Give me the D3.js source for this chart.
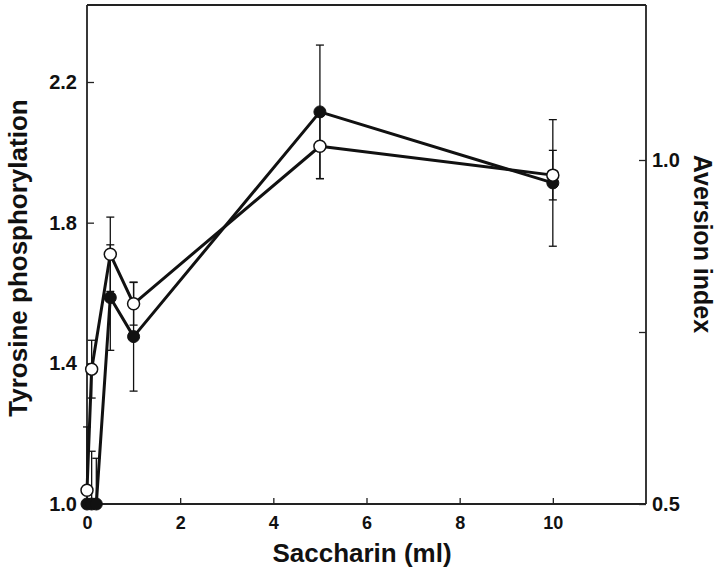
<!DOCTYPE html>
<html>
<head>
<meta charset="utf-8">
<script src="https://cdn.jsdelivr.net/npm/d3@7"></script>
<style>
  html, body { margin: 0; padding: 0; background: #fff; }
  svg text { font-family: "Liberation Sans", Arial, Helvetica, sans-serif; font-weight: bold; fill: #111; }
</style>
</head>
<body>
<svg id="chart" width="720" height="572"></svg>
<script>
// ---- data ----
const xTicks = [0, 2, 4, 6, 8, 10];
const leftTicks = [1.0, 1.4, 1.8, 2.2];
const rightTicks = [0.5, 0.75, 1.0];
const rightTickLabels = ["0.5", "", "1.0"];

// filled circles: Tyrosine phosphorylation (left axis)
const tyrX = [0, 0.1, 0.2, 0.5, 1, 5, 10];
const tyrVal = [1.00, 1.00, 1.00, 1.587, 1.476, 2.115, 1.913];
const tyrErr = [0, 0.15, 0.13, 0.15, 0.155, 0.19, 0.18];

// open circles: Aversion index (right axis)
const avX = [0, 0.1, 0.5, 1, 5, 10];
const avVal = [0.520, 0.696, 0.863, 0.791, 1.020, 0.978];
const avErr = [0.092, 0.042, 0.054, 0.031, 0.047, 0.036];

// ---- layout ----
const svg = d3.select("#chart");
const L = 87, R = 646, T = 5, B = 504;

const x = d3.scaleLinear().domain([0, 12]).range([L, R]);
const yL = d3.scaleLinear().domain([1.0, 2.2]).range([B, 82]);
const yR = d3.scaleLinear().domain([0.5, 1.0]).range([B, 160]);

svg.append("defs").append("clipPath").attr("id", "plotclip")
  .append("rect").attr("x", L - 10).attr("y", T).attr("width", R - L + 10).attr("height", B - T);

// frame
const axisColor = "#222";
svg.append("line").attr("x1", L).attr("x2", R).attr("y1", T).attr("y2", T).attr("stroke", axisColor).attr("stroke-width", 1.8);

// bottom axis
const xAxis = d3.axisBottom(x).tickValues(xTicks).tickSize(-6).tickPadding(12).tickFormat(d3.format("d"));
const gx = svg.append("g").attr("transform", `translate(0,${B})`).call(xAxis);
// left axis
const yAxisL = d3.axisLeft(yL).tickValues(leftTicks).tickSize(-7).tickPadding(10).tickFormat(d3.format(".1f"));
const gl = svg.append("g").attr("transform", `translate(${L},0)`).call(yAxisL);
// right axis
const yAxisR = d3.axisRight(yR).tickValues(rightTicks).tickSize(-7).tickPadding(6).tickFormat((d, i) => rightTickLabels[i]);
const gr = svg.append("g").attr("transform", `translate(${R},0)`).call(yAxisR);

[gx, gl, gr].forEach(g => {
  g.select(".domain").attr("stroke", axisColor).attr("stroke-width", 1.8);
  g.selectAll(".tick line").attr("stroke", axisColor).attr("stroke-width", 1.3);
  g.selectAll(".tick text").attr("fill", "#111")
    .attr("font-family", '"Liberation Sans", Arial, sans-serif').attr("font-weight", "bold");
});
gx.selectAll(".tick text").attr("font-size", 18);
gl.selectAll(".tick text").attr("font-size", 20);
gr.selectAll(".tick text").attr("font-size", 20);
gl.select(".domain").attr("d", `M0,${B}V${T}`);
gr.select(".domain").attr("d", `M0,${B}V${T}`);
gx.select(".domain").attr("d", `M${L},0H${R}`);

// titles
svg.append("text").attr("x", 362).attr("y", 562).attr("text-anchor", "middle")
  .attr("font-size", 26).text("Saccharin (ml)");
svg.append("text").attr("transform", `translate(27,258) rotate(-90)`).attr("text-anchor", "middle")
  .attr("font-size", 26).text("Tyrosine phosphorylation");
svg.append("text").attr("transform", `translate(694,244) rotate(90)`).attr("text-anchor", "middle")
  .attr("font-size", 25).text("Aversion index");

const plot = svg.append("g").attr("clip-path", "url(#plotclip)");

const tyr = tyrX.map((d, i) => ({ x: d, y: tyrVal[i], e: tyrErr[i] }));
const av = avX.map((d, i) => ({ x: d, y: avVal[i], e: avErr[i] }));

function errorBars(data, ys) {
  const g = plot.append("g").attr("stroke", "#111").attr("stroke-width", 1.3);
  data.filter(d => d.e > 0).forEach(d => {
    const cx = x(d.x), y1 = ys(d.y + d.e), y2 = ys(d.y - d.e);
    g.append("line").attr("x1", cx).attr("x2", cx).attr("y1", y1).attr("y2", y2);
    g.append("line").attr("x1", cx - 4).attr("x2", cx + 4).attr("y1", y1).attr("y2", y1);
    g.append("line").attr("x1", cx - 4).attr("x2", cx + 4).attr("y1", y2).attr("y2", y2);
  });
}
errorBars(tyr, yL);
errorBars(av, yR);

const lineL = d3.line().x(d => x(d.x)).y(d => yL(d.y));
const lineR = d3.line().x(d => x(d.x)).y(d => yR(d.y));
plot.append("path").datum(tyr).attr("d", lineL).attr("fill", "none").attr("stroke", "#111").attr("stroke-width", 3).attr("stroke-linejoin", "round");
plot.append("path").datum(av).attr("d", lineR).attr("fill", "none").attr("stroke", "#111").attr("stroke-width", 3).attr("stroke-linejoin", "round");

svg.append("g").selectAll("circle").data(tyr).join("circle")
  .attr("cx", d => x(d.x)).attr("cy", d => yL(d.y)).attr("r", 6)
  .attr("fill", "#111").attr("stroke", "#111").attr("stroke-width", 1);
svg.append("g").selectAll("circle").data(av).join("circle")
  .attr("cx", d => x(d.x)).attr("cy", d => yR(d.y)).attr("r", 6)
  .attr("fill", "#fff").attr("stroke", "#111").attr("stroke-width", 1.5);
</script>
</body>
</html>
